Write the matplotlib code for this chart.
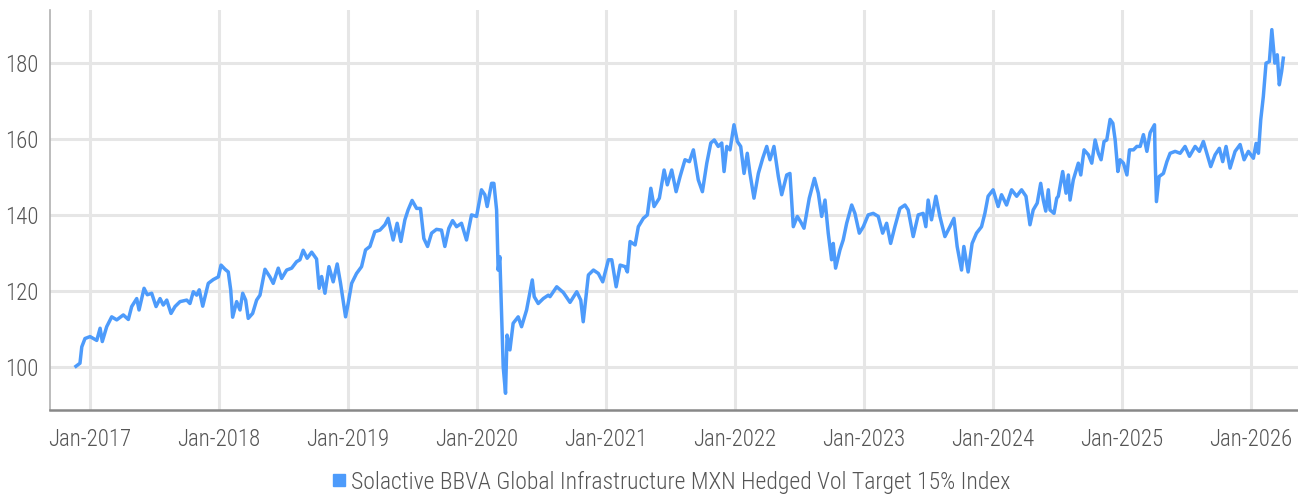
import matplotlib
matplotlib.use("Agg")
import matplotlib.pyplot as plt
import matplotlib.dates as mdates
import pandas as pd
import numpy as np
from matplotlib.lines import Line2D

# ---- data ----
# time as decimal years
t_years = [
    2016.891, 2016.922, 2016.936, 2016.961, 2017.000, 2017.052, 2017.078, 2017.095, 2017.129, 2017.168,
    2017.207, 2017.258, 2017.297, 2017.323, 2017.362, 2017.380, 2017.419, 2017.444, 2017.478, 2017.512,
    2017.543, 2017.568, 2017.595, 2017.628, 2017.659, 2017.698, 2017.750, 2017.775, 2017.801, 2017.827,
    2017.847, 2017.874, 2017.917, 2017.956, 2017.995, 2018.016, 2018.047, 2018.072, 2018.091, 2018.106,
    2018.137, 2018.163, 2018.184, 2018.207, 2018.227, 2018.261, 2018.292, 2018.318, 2018.357, 2018.395,
    2018.421, 2018.460, 2018.486, 2018.525, 2018.564, 2018.602, 2018.628, 2018.653, 2018.684, 2018.719,
    2018.757, 2018.777, 2018.796, 2018.822, 2018.853, 2018.886, 2018.917, 2018.943, 2018.982, 2019.002,
    2019.029, 2019.067, 2019.106, 2019.137, 2019.171, 2019.209, 2019.248, 2019.287, 2019.312, 2019.351,
    2019.382, 2019.411, 2019.442, 2019.467, 2019.498, 2019.533, 2019.563, 2019.589, 2019.618, 2019.649,
    2019.687, 2019.726, 2019.752, 2019.783, 2019.812, 2019.843, 2019.881, 2019.920, 2019.959, 2019.998,
    2020.036, 2020.062, 2020.080, 2020.114, 2020.132, 2020.153, 2020.165, 2020.178, 2020.191, 2020.204,
    2020.222, 2020.234, 2020.256, 2020.281, 2020.320, 2020.346, 2020.385, 2020.429, 2020.444, 2020.475,
    2020.514, 2020.553, 2020.566, 2020.618, 2020.669, 2020.721, 2020.773, 2020.804, 2020.823, 2020.863,
    2020.902, 2020.940, 2020.974, 2021.018, 2021.044, 2021.078, 2021.109, 2021.147, 2021.165, 2021.186,
    2021.225, 2021.250, 2021.289, 2021.320, 2021.347, 2021.372, 2021.413, 2021.450, 2021.475, 2021.509,
    2021.543, 2021.574, 2021.612, 2021.646, 2021.677, 2021.715, 2021.747, 2021.781, 2021.812, 2021.839,
    2021.870, 2021.897, 2021.915, 2021.936, 2021.961, 2021.992, 2022.018, 2022.044, 2022.070, 2022.095,
    2022.116, 2022.147, 2022.181, 2022.215, 2022.246, 2022.271, 2022.302, 2022.336, 2022.362, 2022.401,
    2022.426, 2022.452, 2022.483, 2022.509, 2022.535, 2022.576, 2022.616, 2022.646, 2022.672, 2022.698,
    2022.723, 2022.749, 2022.762, 2022.780, 2022.814, 2022.839, 2022.866, 2022.905, 2022.930, 2022.964,
    2022.995, 2023.033, 2023.072, 2023.111, 2023.145, 2023.176, 2023.207, 2023.240, 2023.279, 2023.318,
    2023.343, 2023.382, 2023.421, 2023.459, 2023.480, 2023.498, 2023.524, 2023.558, 2023.589, 2023.628,
    2023.667, 2023.698, 2023.723, 2023.757, 2023.775, 2023.808, 2023.839, 2023.873, 2023.912, 2023.938,
    2023.963, 2024.002, 2024.041, 2024.067, 2024.106, 2024.145, 2024.184, 2024.222, 2024.256, 2024.287,
    2024.312, 2024.343, 2024.370, 2024.390, 2024.409, 2024.429, 2024.442, 2024.473, 2024.494, 2024.506,
    2024.540, 2024.566, 2024.584, 2024.597, 2024.622, 2024.661, 2024.680, 2024.705, 2024.739, 2024.765,
    2024.791, 2024.816, 2024.837, 2024.860, 2024.881, 2024.907, 2024.928, 2024.946, 2024.967, 2024.984,
    2025.010, 2025.037, 2025.057, 2025.088, 2025.114, 2025.140, 2025.165, 2025.192, 2025.217, 2025.251,
    2025.256, 2025.266, 2025.287, 2025.320, 2025.347, 2025.372, 2025.411, 2025.450, 2025.488, 2025.522,
    2025.566, 2025.599, 2025.630, 2025.657, 2025.687, 2025.721, 2025.754, 2025.780, 2025.806, 2025.837,
    2025.876, 2025.915, 2025.946, 2025.979, 2026.018, 2026.039, 2026.057, 2026.075, 2026.095, 2026.116,
    2026.142, 2026.161, 2026.184, 2026.203, 2026.219, 2026.237, 2026.250,
]

index_vals = [
    100.2, 101.0, 105.3, 107.5, 108.0, 107.0, 110.2, 106.7, 110.6, 113.2,
    112.4, 113.7, 112.5, 115.9, 118.0, 115.0, 120.7, 119.0, 119.4, 115.9,
    118.0, 116.3, 117.6, 114.1, 115.9, 117.2, 117.6, 116.7, 119.8, 118.9,
    120.3, 116.0, 122.0, 123.0, 123.7, 126.8, 125.7, 125.0, 120.3, 113.1,
    117.2, 115.0, 119.4, 117.6, 112.8, 114.1, 117.6, 118.9, 125.7, 123.7,
    122.0, 126.0, 123.3, 125.5, 126.0, 127.7, 128.2, 130.7, 128.6, 130.2,
    128.4, 120.7, 123.8, 119.4, 126.4, 122.4, 127.1, 122.0, 113.2, 116.7,
    122.0, 124.6, 126.4, 130.8, 131.7, 135.6, 136.0, 137.4, 139.1, 133.4,
    137.8, 133.0, 138.7, 141.3, 143.8, 141.7, 141.7, 133.8, 131.7, 135.2,
    136.2, 136.0, 131.7, 136.5, 138.5, 136.9, 137.8, 133.4, 140.0, 139.6,
    146.6, 145.3, 142.2, 148.3, 148.3, 141.3, 125.5, 129.0, 115.0, 100.1,
    93.1, 108.4, 104.5, 111.5, 113.2, 110.6, 115.0, 122.9, 118.5, 116.7,
    118.0, 118.9, 118.5, 121.1, 119.6, 117.0, 119.8, 117.6, 111.9, 124.2,
    125.5, 124.6, 122.4, 128.2, 128.2, 121.1, 126.8, 126.4, 125.0, 133.0,
    132.1, 136.9, 139.1, 140.0, 147.0, 142.2, 144.4, 151.8, 147.9, 151.8,
    146.1, 150.1, 154.5, 154.0, 157.1, 149.2, 146.1, 153.6, 158.9, 159.7,
    158.0, 158.9, 151.4, 158.0, 157.1, 163.7, 159.3, 158.0, 150.9, 156.2,
    150.9, 144.4, 150.9, 154.9, 158.0, 154.5, 158.0, 150.1, 145.3, 150.5,
    150.9, 136.9, 139.6, 138.2, 136.5, 144.4, 149.6, 145.7, 139.6, 143.9,
    135.2, 128.2, 132.5, 126.0, 130.8, 133.4, 137.8, 142.6, 140.4, 135.2,
    136.9, 140.0, 140.4, 139.6, 135.2, 137.8, 132.5, 136.9, 141.7, 142.6,
    141.3, 134.3, 140.0, 140.4, 136.9, 143.9, 138.7, 144.9, 139.6, 134.3,
    136.9, 139.1, 131.7, 125.5, 131.7, 125.0, 132.5, 135.2, 136.9, 140.4,
    144.9, 146.6, 142.2, 145.3, 142.6, 146.6, 144.9, 146.6, 144.9, 137.4,
    141.3, 143.1, 148.3, 143.9, 141.0, 146.6, 141.3, 140.4, 144.4, 144.9,
    151.4, 145.7, 150.5, 143.9, 149.2, 153.6, 150.5, 157.1, 155.8, 153.6,
    159.7, 156.2, 154.5, 159.3, 159.7, 165.1, 164.1, 159.7, 151.4, 154.5,
    153.6, 150.5, 157.1, 157.1, 158.0, 158.0, 161.1, 156.7, 161.6, 163.7,
    154.5, 143.5, 150.1, 150.9, 154.0, 156.2, 156.7, 156.2, 158.0, 155.4,
    158.0, 156.7, 159.3, 156.2, 152.7, 155.8, 157.5, 154.0, 158.0, 152.3,
    156.7, 158.5, 154.5, 156.7, 154.9, 158.8, 156.2, 165.0, 171.1, 179.9,
    180.3, 188.7, 179.9, 182.1, 174.2, 177.7, 181.2,
]

years_ticks = list(range(2017, 2027))
y_ticks = [100, 120, 140, 160, 180]
series_name = "Solactive BBVA Global Infrastructure MXN Hedged Vol Target 15% Index"


def dec_to_date(y):
    yr = int(np.floor(y))
    start = pd.Timestamp(year=yr, month=1, day=1)
    end = pd.Timestamp(year=yr + 1, month=1, day=1)
    return start + (end - start) * (y - yr)


dates = [dec_to_date(y) for y in t_years]

# ---- style ----
fam = ["Roboto Condensed", "Liberation Sans Narrow", "DejaVu Sans"]
plt.rcParams["font.family"] = fam
line_color = "#4d9bfb"
text_color = "#555555"

fig = plt.figure(figsize=(12.98, 4.94), dpi=100)
ax = fig.add_axes([0.0385, 0.17, 0.9615, 0.81])

ax.plot(dates, index_vals, color=line_color, lw=2.5, solid_joinstyle="round", zorder=3)

ax.set_xlim(dec_to_date(2016.69), dec_to_date(2026.364))
ax.set_ylim(88.7, 193.9)

ax.set_yticks(y_ticks)
ax.set_xticks([pd.Timestamp(year=y, month=1, day=1) for y in years_ticks])
ax.xaxis.set_major_formatter(mdates.DateFormatter("%b-%Y"))

ax.grid(True, color="#e6e6e6", lw=2.2, zorder=0)
ax.set_axisbelow(True)

for s in ["top", "right"]:
    ax.spines[s].set_visible(False)
ax.spines["left"].set_color("#b0b0b0")
ax.spines["left"].set_linewidth(1.2)
ax.spines["bottom"].set_color("#888888")
ax.spines["bottom"].set_linewidth(1.8)

ax.tick_params(axis="both", length=0, labelsize=16.5, labelcolor=text_color)
ax.tick_params(axis="x", pad=13)
ax.tick_params(axis="y", pad=8)
for lab in ax.get_xticklabels() + ax.get_yticklabels():
    lab.set_fontweight("light")

handle = Line2D([], [], marker="s", linestyle="none", markersize=8,
                markerfacecolor=line_color, markeredgecolor=line_color)
fig.legend([handle], [series_name], loc="center", bbox_to_anchor=(0.516, 0.024),
           frameon=False, handletextpad=0.1, handlelength=0.8,
           labelcolor=text_color, prop={"weight": "light", "size": 17})

fig.savefig("out.png", dpi=100)
